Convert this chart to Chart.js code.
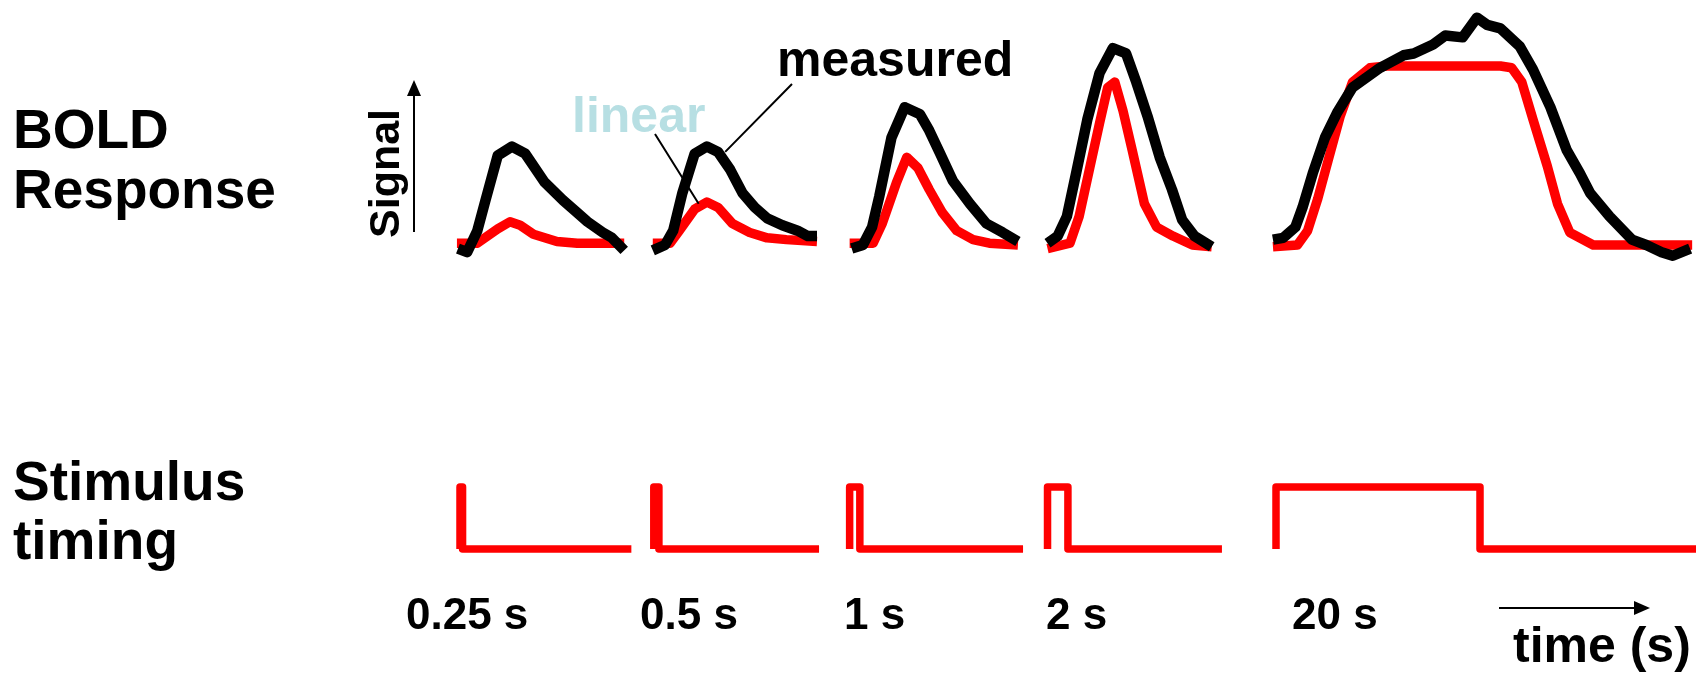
<!DOCTYPE html>
<html>
<head>
<meta charset="utf-8">
<title>BOLD response vs stimulus duration</title>
<script src="https://cdn.jsdelivr.net/npm/chart.js@4.4.1/dist/chart.umd.min.js"></script>
<style>
  html, body { margin: 0; padding: 0; background: #fff; }
  #wrap { position: relative; width: 1696px; height: 675px; }
</style>
</head>
<body>
<div id="wrap"><canvas id="boldChart" width="1696" height="675"></canvas></div>
<script>
// Stimulus durations (s), trial onsets on the shared time axis (s), trial lengths (s)
const durations = [0.25, 0.5, 1, 2, 20];
const onsets = [0, 19.0, 38.2, 57.6, 80.0];
const trialEnds = [16.8, 16.2, 17.0, 17.1, 41.2];

// BOLD responses: [time from onset (s), signal (a.u.)]
const measured025 = [[-0.2, -0.02], [0.7, -0.04], [1.7, 0.08], [2.5, 0.25], [3.7, 0.50], [5.1, 0.55], [6.4, 0.51], [8.3, 0.35], [10.1, 0.25], [11.5, 0.18], [12.5, 0.13], [14.0, 0.07], [14.9, 0.04], [16.1, -0.03]];
const linear025 = [[-0.3, 0.01], [1.7, 0.01], [3.7, 0.09], [4.9, 0.13], [5.9, 0.11], [7.2, 0.06], [9.5, 0.02], [11.5, 0.01], [16.1, 0.01]];

const measured05 = [[-0.1, -0.03], [1.1, 0], [1.9, 0.08], [2.8, 0.29], [4.0, 0.51], [5.2, 0.55], [6.3, 0.52], [7.5, 0.42], [8.7, 0.29], [9.9, 0.21], [11.1, 0.15], [12.6, 0.11], [14.1, 0.08], [15.1, 0.05], [16.0, 0.05]];
const linear05 = [[-0.1, 0.01], [1.6, 0.01], [2.5, 0.08], [4.0, 0.20], [5.2, 0.24], [6.3, 0.21], [7.7, 0.12], [9.4, 0.07], [11.1, 0.04], [13.0, 0.03], [16.0, 0.02]];

const measured1 = [[0.2, -0.02], [1.3, 0], [2.2, 0.10], [2.9, 0.27], [4.1, 0.60], [5.4, 0.77], [6.9, 0.73], [7.8, 0.64], [8.8, 0.52], [10.1, 0.36], [11.8, 0.23], [13.4, 0.12], [15.0, 0.07], [16.5, 0.02]];
const linear1 = [[0, 0.01], [2.3, 0.01], [3.2, 0.12], [4.6, 0.35], [5.6, 0.49], [6.7, 0.43], [7.8, 0.31], [9.1, 0.18], [10.5, 0.08], [12.1, 0.03], [13.7, 0.01], [16.5, 0]];

const measured2 = [[0, 0.01], [1.0, 0.05], [1.9, 0.16], [2.8, 0.40], [3.9, 0.70], [5.1, 0.96], [6.4, 1.10], [7.7, 1.07], [8.7, 0.91], [9.8, 0.72], [11.0, 0.49], [12.2, 0.31], [13.2, 0.14], [14.4, 0.05], [16.1, -0.01]];
const linear2 = [[0, -0.02], [2.2, 0.01], [3.1, 0.16], [4.1, 0.42], [5.1, 0.68], [5.9, 0.88], [6.6, 0.91], [7.4, 0.75], [8.3, 0.53], [9.5, 0.23], [10.7, 0.10], [12.3, 0.05], [14.2, 0], [16.1, -0.01]];

const measured20 = [[-0.3, 0.03], [0.7, 0.04], [1.9, 0.10], [2.6, 0.21], [3.6, 0.40], [4.8, 0.60], [6.0, 0.74], [7.5, 0.88], [10.2, 0.99], [12.5, 1.06], [13.5, 1.07], [15.4, 1.12], [16.6, 1.17], [18.3, 1.16], [19.7, 1.27], [20.7, 1.23], [22.0, 1.21], [23.9, 1.11], [25.2, 0.98], [26.9, 0.77], [28.5, 0.53], [29.8, 0.40], [30.8, 0.29], [32.7, 0.16], [34.9, 0.03], [36.3, 0], [37.8, -0.04], [38.9, -0.06], [40.6, -0.02]];
const linear20 = [[-0.3, -0.01], [2.1, 0], [3.1, 0.08], [4.1, 0.26], [5.1, 0.47], [6.3, 0.72], [7.5, 0.91], [9.2, 0.99], [10.9, 1.0], [22.0, 1.0], [23.1, 0.99], [24.1, 0.91], [25.2, 0.70], [26.6, 0.44], [27.6, 0.23], [28.8, 0.07], [31.1, 0], [40.8, 0]];

const measuredTrials = [measured025, measured05, measured1, measured2, measured20];
const linearTrials = [linear025, linear05, linear1, linear2, linear20];

// canvas layout
const W = 1696, H = 675;
const PX_PER_S = 10.2, ORIGIN_X = 460;
const BOLD_BASE_Y = 245, BOLD_PX = 179;
const STIM_BASE_Y = 549, STIM_PX = 62;
const FONT = '"Liberation Sans", Arial, Helvetica, sans-serif';

// one line per series, broken between trials
function joinTrials(trials) {
  const pts = [];
  trials.forEach((trial, i) => {
    trial.forEach(([t, v]) => pts.push({ x: onsets[i] + t, y: v }));
    pts.push({ x: onsets[i] + trialEnds[i], y: null });
  });
  return pts;
}

function stimulusTrace() {
  const pts = [];
  durations.forEach((d, i) => {
    const t0 = onsets[i];
    pts.push(
      { x: t0, y: 0 }, { x: t0, y: 1 }, { x: t0 + d, y: 1 }, { x: t0 + d, y: 0 },
      { x: t0 + trialEnds[i], y: 0 }, { x: t0 + trialEnds[i], y: null }
    );
  });
  return pts;
}

function arrow(ctx, x1, y1, x2, y2, head, half) {
  const a = Math.atan2(y2 - y1, x2 - x1);
  const bx = x2 - head * Math.cos(a), by = y2 - head * Math.sin(a);
  ctx.beginPath();
  ctx.moveTo(x1, y1);
  ctx.lineTo(bx, by);
  ctx.stroke();
  ctx.beginPath();
  ctx.moveTo(x2, y2);
  ctx.lineTo(bx + half * Math.sin(a), by - half * Math.cos(a));
  ctx.lineTo(bx - half * Math.sin(a), by + half * Math.cos(a));
  ctx.closePath();
  ctx.fill();
}

const labelsPlugin = {
  id: 'labels',
  afterDatasetsDraw(chart) {
    const ctx = chart.ctx;
    const xs = chart.scales.x, ys = chart.scales.y;
    ctx.save();
    ctx.fillStyle = '#000';
    ctx.strokeStyle = '#000';
    ctx.textBaseline = 'alphabetic';
    ctx.textAlign = 'left';

    ctx.font = 'bold 55px ' + FONT;
    ctx.fillText('BOLD', 13, 148);
    ctx.fillText('Response', 13, 208);
    ctx.fillText('Stimulus', 13, 500);
    ctx.fillText('timing', 13, 559);

    // duration under each trial
    ctx.font = 'bold 44px ' + FONT;
    const labelX = [406, 640, 844, 1046, 1292];
    durations.forEach((d, i) => ctx.fillText(d + ' s', labelX[i], 629));

    ctx.font = 'bold 50px ' + FONT;
    ctx.fillText('time (s)', 1513, 662);
    ctx.lineWidth = 2;
    arrow(ctx, 1499, 608, 1650, 608, 16, 7);

    // y-axis hint
    ctx.save();
    ctx.translate(399, 238);
    ctx.rotate(-Math.PI / 2);
    ctx.font = 'bold 43px ' + FONT;
    ctx.fillText('Signal', 0, 0);
    ctx.restore();
    arrow(ctx, 414, 232, 414, 80, 16, 7);

    // series names with leader lines onto the 0.5 s trial
    ctx.font = 'bold 50px ' + FONT;
    ctx.fillText('measured', 777, 76);
    ctx.fillStyle = '#b7dfe3';
    ctx.fillText('linear', 572, 132);

    ctx.lineWidth = 2;
    ctx.beginPath();
    ctx.moveTo(792, 84);
    ctx.lineTo(xs.getPixelForValue(onsets[1] + 7.0), ys.getPixelForValue(0.52));
    ctx.moveTo(655, 134);
    ctx.lineTo(xs.getPixelForValue(onsets[1] + 4.4), ys.getPixelForValue(0.23));
    ctx.stroke();
    ctx.restore();
  }
};

new Chart(document.getElementById('boldChart'), {
  type: 'line',
  data: {
    datasets: [
      {
        label: 'measured',
        data: joinTrials(measuredTrials),
        borderColor: '#000',
        borderWidth: 10.5,
        order: 0,
      },
      {
        label: 'linear',
        data: joinTrials(linearTrials),
        borderColor: '#ff0000',
        borderWidth: 9.5,
        order: 1,
      },
      {
        label: 'stimulus',
        data: stimulusTrace(),
        yAxisID: 'y2',
        borderColor: '#ff0000',
        borderWidth: 7.5,
        order: 2,
      },
    ],
  },
  options: {
    responsive: false,
    animation: false,
    devicePixelRatio: 1,
    spanGaps: false,
    layout: { padding: 0 },
    elements: {
      point: { radius: 0, hoverRadius: 0 },
      line: { tension: 0, borderJoinStyle: 'round', fill: false },
    },
    plugins: { legend: { display: false }, tooltip: { enabled: false } },
    scales: {
      x: {
        type: 'linear',
        display: false,
        min: -ORIGIN_X / PX_PER_S,
        max: (W - ORIGIN_X) / PX_PER_S,
      },
      y: {
        display: false,
        min: (BOLD_BASE_Y - H) / BOLD_PX,
        max: BOLD_BASE_Y / BOLD_PX,
      },
      y2: {
        display: false,
        min: (STIM_BASE_Y - H) / STIM_PX,
        max: STIM_BASE_Y / STIM_PX,
      },
    },
  },
  plugins: [labelsPlugin],
});
</script>
</body>
</html>
